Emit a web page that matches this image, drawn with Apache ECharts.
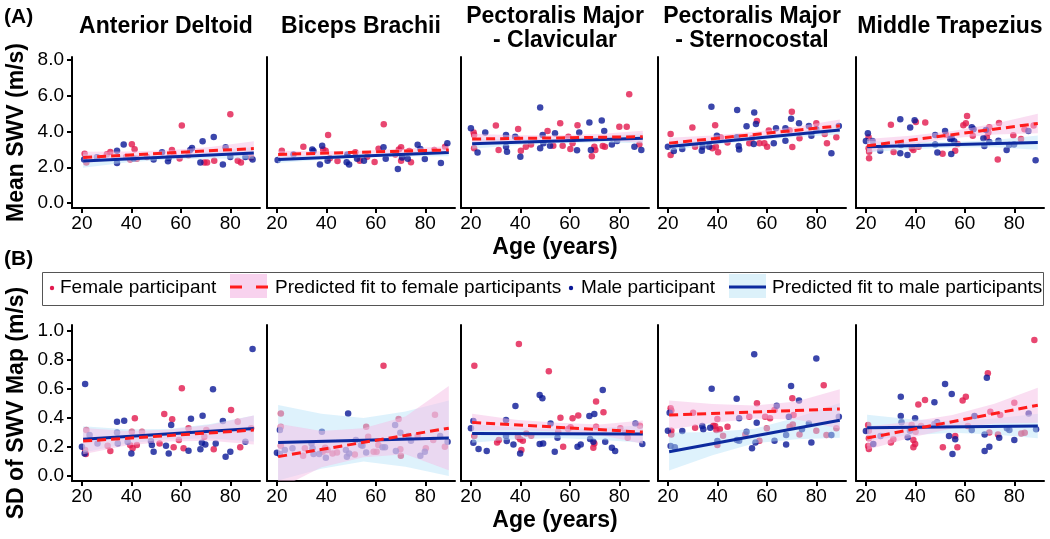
<!DOCTYPE html>
<html><head><meta charset="utf-8">
<script src="https://cdn.jsdelivr.net/npm/echarts@6/dist/echarts.min.js"></script>
<style>html,body{margin:0;padding:0;background:#fff}#c{width:1050px;height:539px}</style>
</head><body><div id="c"></div>
<script>
const muscles = ['Anterior Deltoid', 'Biceps Brachii', 'Pectoralis Major\n- Clavicular', 'Pectoralis Major\n- Sternocostal', 'Middle Trapezius'];
const xTicks = [20, 40, 60, 80];
const meanTicks = [0, 2, 4, 6, 8];
const sdTicks = [0, 0.2, 0.4, 0.6, 0.8, 1.0];
const legendLabels = ['Female participant', 'Predicted fit to female participants', 'Male participant', 'Predicted fit to male participants'];

// ---- Mean SWV (m/s): [age, value]
const meanF_AD = [[21.1,2.75],[21.8,2.26],[30.1,2.73],[31.5,2.86],[37.9,2.58],[40.2,3.29],[41.3,3.01],[39.5,2.43],[42.2,2.47],[46.3,2.58],[56.4,2.97],[57.1,2.77],[59.5,2.49],[60.4,4.34],[63.1,2.67],[69.5,2.26],[70.6,2.26],[73.5,2.37],[80.0,4.97],[83.0,2.37],[84.3,2.26],[88.4,2.54]];
const meanM_AD = [[20.9,2.43],[26.1,2.56],[34.2,2.92],[34.2,2.24],[36.9,3.27],[40.9,2.49],[49.0,2.43],[52.4,2.84],[55.1,2.52],[54.8,2.34],[63.8,2.97],[64.5,3.08],[67.9,2.26],[68.8,3.46],[73.3,3.70],[77.0,2.15],[78.1,3.12],[80.0,2.58],[86.1,2.58],[89.0,2.43]];
const meanF_BB = [[22.0,2.93],[30.7,3.15],[38.7,3.00],[39.7,2.93],[40.7,3.81],[41.4,2.50],[44.5,2.35],[51.7,2.84],[53.5,2.37],[56.5,2.59],[59.5,2.29],[61.1,3.04],[63.2,4.40],[67.9,2.72],[69.3,3.00],[70.2,3.12],[70.2,2.37],[73.5,2.91],[74.2,2.28],[83.6,2.97],[88.0,3.15]];
const meanM_BB = [[20.3,2.41],[26.7,2.72],[34.3,3.00],[34.8,2.91],[37.4,2.16],[38.3,3.21],[40.5,2.37],[48.5,2.72],[48.2,2.28],[49.2,2.15],[52.4,2.48],[55.2,2.37],[63.1,3.12],[64.0,2.48],[68.9,1.90],[70.6,2.54],[72.9,2.48],[76.9,3.26],[78.0,3.02],[79.8,2.46],[86.3,2.24],[88.9,3.34]];
const meanF_PC = [[21.1,3.94],[21.3,3.81],[21.3,3.06],[30.1,4.33],[31.2,2.97],[38.9,3.58],[39.1,4.14],[40.2,2.93],[42.2,3.15],[44.3,3.28],[51.0,4.03],[53.3,3.21],[56.1,4.46],[57.1,3.21],[59.4,3.71],[60.2,3.02],[61.1,3.34],[63.1,4.35],[68.9,2.61],[69.9,3.15],[70.3,2.97],[73.3,3.19],[74.2,3.15],[80.0,4.27],[83.0,4.27],[84.0,6.08],[88.1,3.28]];
const meanM_PC = [[20.0,4.18],[22.7,2.82],[25.8,3.94],[34.2,3.81],[34.2,3.15],[34.6,2.87],[37.9,3.71],[40.0,2.59],[48.0,5.35],[48.0,3.06],[49.0,3.81],[49.3,3.34],[52.0,3.21],[54.0,3.90],[62.9,2.95],[63.8,3.94],[67.9,4.51],[68.5,2.97],[72.9,4.61],[73.9,4.03],[77.0,3.28],[79.1,3.47],[86.1,3.15],[88.9,2.97]];
const meanF_PS = [[21.1,3.86],[21.1,2.69],[29.9,4.22],[31.0,3.15],[38.0,3.06],[39.1,4.35],[39.4,3.15],[40.3,2.84],[41.4,3.66],[44.1,3.38],[52.9,3.34],[54.0,3.62],[56.0,4.59],[57.0,3.34],[59.0,3.34],[60.1,3.15],[60.8,4.05],[69.2,4.05],[70.1,5.11],[70.3,3.13],[73.2,3.62],[80.0,4.46],[83.4,3.86],[84.3,3.34],[88.1,3.68]];
const meanM_PS = [[20.0,3.15],[22.4,2.91],[25.8,3.02],[33.7,2.93],[34.0,3.15],[36.7,3.15],[37.6,5.39],[39.8,3.77],[47.9,3.68],[48.0,5.21],[48.6,3.19],[48.8,3.00],[51.8,4.29],[54.7,3.30],[54.9,5.07],[55.6,4.42],[62.8,3.34],[63.7,4.18],[67.5,4.18],[67.5,3.49],[69.8,4.72],[73.0,4.46],[77.0,4.31],[78.0,3.77],[80.0,4.12],[86.1,2.78],[89.1,4.31]];
const meanF_MT = [[21.1,3.68],[21.1,3.06],[21.3,2.87],[21.3,2.50],[30.1,4.38],[31.2,2.85],[38.6,3.06],[39.2,2.97],[40.2,4.53],[41.3,3.15],[44.0,4.50],[51.0,2.76],[52.4,3.82],[56.1,2.93],[57.1,3.30],[59.4,4.35],[60.4,4.46],[60.9,4.87],[63.2,3.77],[68.9,3.68],[69.5,3.94],[69.9,4.24],[73.3,2.44],[73.8,4.48],[79.6,3.79],[82.7,3.58],[84.1,4.12],[87.8,4.33]];
const meanM_MT = [[20.0,3.47],[20.8,3.90],[22.7,3.47],[25.8,2.93],[33.9,4.68],[33.9,2.78],[34.2,3.25],[36.8,2.69],[37.9,4.22],[39.7,4.63],[48.0,3.81],[48.0,3.28],[48.9,2.82],[52.0,4.03],[54.1,3.58],[54.5,2.74],[54.7,3.62],[55.7,3.45],[62.8,4.24],[63.5,4.12],[67.5,3.62],[67.9,3.19],[68.5,4.09],[69.9,3.41],[73.6,3.49],[76.9,2.97],[77.9,3.25],[79.9,3.28],[85.7,4.03],[88.6,2.39]];

// ---- SD of SWV map (m/s): [age, value]
const sdF_AD = [[21.8,0.317],[21.6,0.152],[21.3,0.179],[30.4,0.209],[31.5,0.172],[39.5,0.214],[40.2,0.306],[40.5,0.191],[41.4,0.398],[42.2,0.214],[44.3,0.306],[51.4,0.225],[53.3,0.428],[56.5,0.391],[57.1,0.198],[59.2,0.248],[60.4,0.605],[61.1,0.191],[63.1,0.329],[69.5,0.271],[70.3,0.317],[73.3,0.184],[80.3,0.455],[83.0,0.375],[84.0,0.198],[88.4,0.329]];
const sdM_AD = [[20.0,0.202],[21.3,0.634],[21.1,0.156],[23.1,0.283],[26.3,0.225],[34.2,0.375],[34.2,0.301],[34.5,0.225],[37.1,0.382],[38.5,0.237],[40.0,0.156],[47.9,0.241],[48.3,0.214],[49.0,0.168],[54.0,0.209],[55.1,0.156],[56.1,0.352],[63.1,0.175],[64.1,0.395],[67.9,0.184],[68.8,0.416],[68.5,0.230],[69.9,0.218],[73.0,0.598],[74.1,0.225],[77.0,0.379],[78.1,0.133],[80.0,0.168],[86.1,0.237],[89.0,0.876]];
const sdF_BB = [[21.6,0.432],[21.6,0.340],[21.6,0.209],[30.6,0.140],[31.3,0.191],[38.5,0.168],[39.1,0.179],[39.5,0.195],[40.5,0.179],[42.5,0.156],[44.3,0.163],[51.5,0.149],[56.1,0.340],[56.9,0.271],[59.1,0.168],[60.3,0.168],[61.0,0.214],[63.1,0.761],[69.2,0.393],[70.1,0.140],[69.9,0.184],[76.9,0.276],[80.2,0.191],[83.2,0.248],[83.9,0.423],[87.9,0.202]];
const sdM_BB = [[20.0,0.161],[21.2,0.317],[21.2,0.152],[23.2,0.179],[26.3,0.191],[34.0,0.225],[34.4,0.191],[34.8,0.152],[37.1,0.152],[38.2,0.306],[39.8,0.126],[47.9,0.179],[48.8,0.432],[48.3,0.133],[49.2,0.156],[51.9,0.248],[54.0,0.214],[54.6,0.209],[56.1,0.163],[62.7,0.198],[63.7,0.198],[67.8,0.352],[68.1,0.172],[69.9,0.299],[73.2,0.276],[74.2,0.244],[78.0,0.140],[79.8,0.168],[86.0,0.276],[89.0,0.237]];
const sdF_PC = [[21.4,0.761],[21.4,0.276],[30.6,0.232],[31.3,0.248],[39.0,0.271],[39.4,0.910],[40.4,0.179],[39.9,0.253],[41.0,0.244],[42.4,0.294],[44.4,0.278],[51.5,0.722],[55.3,0.306],[56.2,0.402],[57.3,0.202],[59.3,0.324],[60.3,0.336],[61.1,0.398],[63.4,0.418],[69.5,0.195],[70.6,0.513],[70.6,0.340],[69.9,0.225],[73.6,0.439],[80.4,0.329],[82.4,0.299],[83.4,0.264],[88.3,0.347]];
const sdM_PC = [[20.0,0.329],[21.0,0.379],[21.0,0.230],[23.1,0.186],[26.4,0.172],[34.2,0.386],[34.2,0.276],[34.5,0.241],[37.2,0.218],[38.0,0.483],[39.9,0.156],[47.8,0.559],[48.9,0.536],[47.8,0.221],[49.2,0.225],[52.2,0.363],[53.9,0.168],[55.0,0.264],[63.1,0.202],[64.4,0.218],[67.9,0.414],[68.2,0.255],[69.5,0.237],[69.9,0.428],[73.3,0.593],[74.3,0.237],[77.0,0.195],[78.3,0.172],[86.5,0.363],[89.3,0.221]];
const sdF_PS = [[21.1,0.467],[21.4,0.451],[21.4,0.313],[21.4,0.287],[30.2,0.437],[31.0,0.333],[38.4,0.347],[39.1,0.345],[39.6,0.317],[40.0,0.393],[41.0,0.322],[40.0,0.214],[42.3,0.278],[44.1,0.340],[51.3,0.287],[52.9,0.409],[56.0,0.501],[57.0,0.244],[59.3,0.409],[60.0,0.329],[61.3,0.398],[63.1,0.455],[69.2,0.340],[70.3,0.536],[70.5,0.356],[70.8,0.421],[73.2,0.287],[80.0,0.313],[83.0,0.625],[84.1,0.283],[88.1,0.329]];
const sdM_PS = [[20.0,0.313],[20.7,0.437],[21.1,0.207],[22.8,0.198],[25.8,0.310],[33.9,0.345],[34.3,0.322],[37.1,0.333],[37.7,0.602],[40.0,0.241],[47.8,0.533],[47.9,0.248],[48.8,0.244],[48.8,0.398],[51.8,0.306],[54.0,0.191],[54.9,0.839],[55.4,0.232],[55.9,0.368],[63.1,0.244],[64.0,0.485],[67.8,0.218],[67.8,0.283],[68.9,0.409],[69.8,0.621],[73.0,0.520],[74.2,0.322],[77.0,0.363],[78.0,0.232],[80.0,0.811],[86.1,0.283],[89.1,0.409]];
const sdF_MT = [[20.9,0.352],[21.2,0.313],[21.2,0.260],[20.9,0.207],[21.2,0.186],[30.1,0.232],[31.1,0.253],[38.5,0.352],[39.2,0.248],[39.2,0.198],[39.9,0.221],[40.1,0.306],[41.2,0.494],[42.3,0.345],[43.9,0.524],[51.1,0.198],[56.1,0.276],[57.0,0.198],[59.1,0.520],[60.4,0.547],[61.2,0.345],[69.3,0.708],[69.9,0.301],[70.3,0.444],[73.4,0.287],[74.3,0.421],[80.0,0.506],[82.8,0.294],[84.2,0.299],[88.1,0.938]];
const sdM_MT = [[20.0,0.310],[23.0,0.221],[25.9,0.276],[34.1,0.547],[34.1,0.414],[34.4,0.370],[36.9,0.267],[37.8,0.313],[39.9,0.398],[47.7,0.508],[47.7,0.359],[48.8,0.370],[52.0,0.634],[53.6,0.276],[54.7,0.566],[55.0,0.152],[56.1,0.253],[62.8,0.317],[63.9,0.414],[68.0,0.287],[68.0,0.172],[68.9,0.678],[69.9,0.202],[73.9,0.264],[77.0,0.329],[78.0,0.317],[80.0,0.248],[85.8,0.432],[88.8,0.322]];

// ---- Predicted fits: value at fitAges, one row per muscle
const fitAges = [20.5, 89.5];
const meanFitF = [[2.55,3.05],[2.72,2.97],[3.58,3.71],[3.35,4.32],[3.20,4.45]];
const meanFitM = [[2.35,2.80],[2.44,2.82],[3.32,3.62],[3.16,4.08],[3.15,3.38]];
const sdFitF = [[0.241,0.317],[0.134,0.330],[0.370,0.303],[0.420,0.462],[0.262,0.488]];
const sdFitM = [[0.253,0.328],[0.232,0.262],[0.294,0.290],[0.168,0.384],[0.333,0.345]];

// ---- Confidence bands: lower / upper at bandAges, one row per muscle
const bandAges = [20.5, 38, 55, 72, 89.5];
const meanBandF_lo = [[2.23,2.48,2.65,2.70,2.65],[2.52,2.66,2.75,2.79,2.75],[3.28,3.43,3.50,3.50,3.38],[3.05,3.42,3.70,3.90,3.97],[2.82,3.28,3.63,3.84,3.90]];
const meanBandF_hi = [[2.87,2.88,2.95,3.14,3.45],[2.92,2.90,2.93,3.03,3.19],[3.88,3.79,3.79,3.86,4.04],[3.65,3.78,3.98,4.26,4.67],[3.58,3.76,4.03,4.44,5.00]];
const meanBandM_lo = [[1.97,2.26,2.44,2.49,2.47],[2.24,2.42,2.54,2.60,2.62],[3.04,3.23,3.35,3.38,3.34],[2.94,3.25,3.51,3.70,3.83],[2.83,3.01,3.11,3.12,2.98]];
const meanBandM_hi = [[2.73,2.66,2.70,2.89,3.13],[2.64,2.66,2.72,2.84,3.02],[3.60,3.57,3.59,3.72,3.90],[3.38,3.53,3.73,3.98,4.33],[3.47,3.41,3.41,3.52,3.78]];
const sdBandF_lo = [[0.151,0.210,0.239,0.243,0.217],[-0.09,0.06,0.13,0.15,0.04],[0.31,0.318,0.307,0.285,0.223],[0.32,0.365,0.396,0.39,0.326],[0.182,0.264,0.33,0.363,0.368]];
const sdBandF_hi = [[0.331,0.310,0.319,0.353,0.417],[0.36,0.31,0.33,0.41,0.62],[0.43,0.388,0.367,0.355,0.383],[0.52,0.497,0.486,0.514,0.598],[0.342,0.374,0.42,0.499,0.608]];
const sdBandM_lo = [[0.163,0.222,0.255,0.259,0.238],[-0.03,0.05,0.10,0.065,0.0],[0.229,0.253,0.262,0.251,0.23],[0.038,0.143,0.226,0.254,0.264],[0.243,0.281,0.299,0.287,0.26]];
const sdBandM_hi = [[0.343,0.322,0.325,0.359,0.418],[0.49,0.43,0.40,0.445,0.52],[0.359,0.333,0.322,0.331,0.35],[0.298,0.303,0.326,0.404,0.504],[0.423,0.391,0.379,0.397,0.43]];

const meanFemale = [meanF_AD, meanF_BB, meanF_PC, meanF_PS, meanF_MT];
const meanMale = [meanM_AD, meanM_BB, meanM_PC, meanM_PS, meanM_MT];
const sdFemale = [sdF_AD, sdF_BB, sdF_PC, sdF_PS, sdF_MT];
const sdMale = [sdM_AD, sdM_BB, sdM_PC, sdM_PS, sdM_MT];

// ---- styling
const FONT = "'Liberation Sans', Arial, Helvetica, sans-serif";
const C_F = '#e2194e', C_M = '#0a1896';
const C_FL = '#ff1c1c', C_ML = '#0c2a9e';
const BAND_F = 'rgba(245,190,230,0.5)', BAND_M = 'rgba(184,228,248,0.47)';
const lefts = [72, 267, 461, 658, 856];
const W = 188;

const grids = [], xAxes = [], yAxes = [], series = [];

function bandSeries(g, lo, hi, color) {
  return {
    type: 'custom', xAxisIndex: g, yAxisIndex: g, silent: true, z: 3,
    data: bandAges.map((a, i) => [a, lo[i], hi[i]]),
    encode: {x: 0, y: [1, 2]},
    renderItem: (params, api) => {
      if (params.dataIndex !== 0) return null;
      const up = bandAges.map((a, i) => api.coord([a, hi[i]]));
      const dn = bandAges.map((a, i) => api.coord([a, lo[i]])).reverse();
      const cs = params.coordSys;
      return {
        type: 'polygon', shape: {points: up.concat(dn)}, style: {fill: color},
        clipPath: {type: 'rect', shape: {x: cs.x, y: cs.y, width: cs.width, height: cs.height}}
      };
    }
  };
}

for (let r = 0; r < 2; r++) {
  for (let c = 0; c < 5; c++) {
    const g = r * 5 + c;
    grids.push({left: lefts[c], top: r ? 325 : 57, width: W, height: r ? 156 : 151, containLabel: false, outerBoundsMode: 'none'});
    xAxes.push({
      type: 'value', gridIndex: g, min: 16, max: 92,
      axisLine: {show: true, onZero: false, lineStyle: {color: '#000', width: 2}},
      axisTick: {show: true, length: 5, lineStyle: {color: '#000', width: 2}, customValues: xTicks},
      axisLabel: {show: true, customValues: xTicks, fontSize: 19, color: '#000', margin: 6, fontFamily: FONT},
      splitLine: {show: false},
      name: c === 2 ? 'Age (years)' : '', nameLocation: 'middle', nameGap: 28,
      nameTextStyle: {fontSize: 23, fontWeight: 'bold', color: '#000', fontFamily: FONT}
    });
    const ticks = r ? sdTicks : meanTicks;
    yAxes.push({
      type: 'value', gridIndex: g, min: r ? -0.034 : -0.28, max: r ? 1.041 : 8.17,
      axisLine: {show: true, onZero: false, lineStyle: {color: '#000', width: 2}},
      axisTick: {show: c === 0, length: 5, lineStyle: {color: '#000', width: 2}, customValues: ticks},
      axisLabel: {show: c === 0, customValues: ticks, formatter: v => Number(v).toFixed(1), fontSize: 19, color: '#000', margin: 8, fontFamily: FONT},
      splitLine: {show: false},
      name: c === 0 ? (r ? 'SD of SWV Map (m/s)' : 'Mean SWV (m/s)') : '',
      nameLocation: 'middle', nameGap: 44,
      nameTextStyle: {fontSize: 23, fontWeight: 'bold', color: '#000', fontFamily: FONT}
    });
    const fem = r ? sdFemale[c] : meanFemale[c];
    const mal = r ? sdMale[c] : meanMale[c];
    const fitF = r ? sdFitF[c] : meanFitF[c];
    const fitM = r ? sdFitM[c] : meanFitM[c];
    series.push({type: 'scatter', xAxisIndex: g, yAxisIndex: g, data: fem, symbolSize: 6.5, itemStyle: {color: C_F}, z: 2, silent: true});
    series.push({type: 'scatter', xAxisIndex: g, yAxisIndex: g, data: mal, symbolSize: 6.5, itemStyle: {color: C_M}, z: 2, silent: true});
    series.push(bandSeries(g, r ? sdBandM_lo[c] : meanBandM_lo[c], r ? sdBandM_hi[c] : meanBandM_hi[c], BAND_M));
    series.push(bandSeries(g, r ? sdBandF_lo[c] : meanBandF_lo[c], r ? sdBandF_hi[c] : meanBandF_hi[c], BAND_F));
    series.push({type: 'line', xAxisIndex: g, yAxisIndex: g, data: fitAges.map((a, i) => [a, fitM[i]]), symbol: 'none',
      lineStyle: {color: C_ML, width: 3}, z: 4, silent: true});
    series.push({type: 'line', xAxisIndex: g, yAxisIndex: g, data: fitAges.map((a, i) => [a, fitF[i]]), symbol: 'none',
      lineStyle: {color: C_FL, width: 3, type: [9, 5]}, z: 5, silent: true});
  }
}

const graphics = [];
const txt = (text, x, y, size, bold, align) => ({
  type: 'text', silent: true, z: 10,
  style: {text: text, x: x, y: y, font: (bold ? 'bold ' : '') + size + 'px ' + FONT, fill: '#000',
    textAlign: align || 'left', textVerticalAlign: 'middle', align: align || 'left', verticalAlign: 'middle', lineHeight: 24}
});
muscles.forEach((m, c) => {
  const two = m.indexOf('\n') >= 0;
  graphics.push(txt(m, lefts[c] + W / 2, two ? 29 : 27, 23, true, 'center'));
});
graphics.push(txt('(A)', 4, 17, 21, true));
graphics.push(txt('(B)', 4, 259, 21, true));
// legend box
graphics.push({type: 'rect', silent: true, z: 10, shape: {x: 42.5, y: 272.5, width: 1001, height: 33}, style: {fill: '#fff', stroke: '#555', lineWidth: 1}});
graphics.push({type: 'circle', silent: true, z: 11, shape: {cx: 52, cy: 288, r: 2.2}, style: {fill: C_F}});
graphics.push(txt(legendLabels[0], 60, 288, 19, false));
graphics.push({type: 'rect', silent: true, z: 11, shape: {x: 230, y: 274, width: 37, height: 24}, style: {fill: '#f8d2ee'}});
graphics.push({type: 'line', silent: true, z: 12, shape: {x1: 230, y1: 287, x2: 268, y2: 287}, style: {stroke: C_FL, lineWidth: 3, lineDash: [12, 14]}});
graphics.push(txt(legendLabels[1], 275, 288, 19, false));
graphics.push({type: 'circle', silent: true, z: 11, shape: {cx: 571, cy: 288, r: 2.2}, style: {fill: C_M}});
graphics.push(txt(legendLabels[2], 581, 288, 19, false));
graphics.push({type: 'rect', silent: true, z: 11, shape: {x: 729, y: 274, width: 37, height: 24}, style: {fill: '#dcf1fa'}});
graphics.push({type: 'line', silent: true, z: 12, shape: {x1: 729, y1: 287, x2: 766, y2: 287}, style: {stroke: C_ML, lineWidth: 3}});
graphics.push(txt(legendLabels[3], 772, 288, 19, false));

const chart = echarts.init(document.getElementById('c'), null, {renderer: 'canvas'});
chart.setOption({
  animation: false,
  backgroundColor: '#fff',
  textStyle: {fontFamily: FONT},
  grid: grids, xAxis: xAxes, yAxis: yAxes, series: series, graphic: graphics
});
</script></body></html>
